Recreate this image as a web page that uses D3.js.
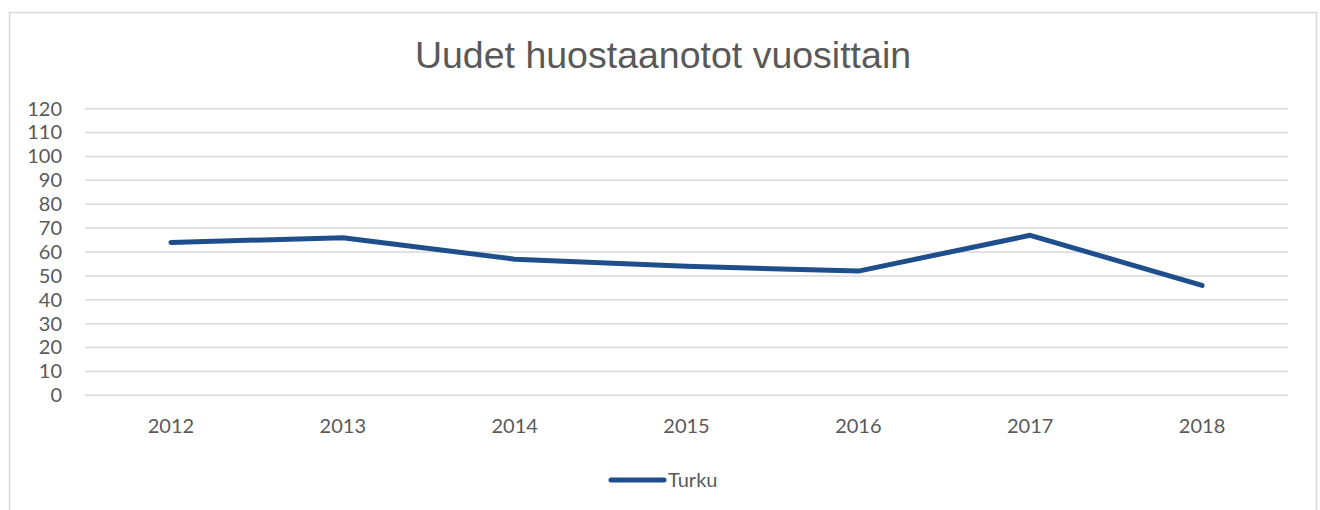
<!DOCTYPE html>
<html><head><meta charset="utf-8">
<script src="https://cdn.jsdelivr.net/npm/d3@7"></script>
<style>body{margin:0;background:#fff}svg{display:block}</style>
</head><body>
<svg id="c" width="1320" height="510"></svg>
<script>
const years = ["2012","2013","2014","2015","2016","2017","2018"];
const turku = [64, 66, 57, 54, 52, 67, 46];
const yTicks = [0,10,20,30,40,50,60,70,80,90,100,110,120];
const title = "Uudet huostaanotot vuosittain";
const seriesName = "Turku";

const svg = d3.select("#c");
const font = "Lato, 'Open Sans', sans-serif";
const color = "#1f4e8c";

svg.append("rect").attr("x",9.5).attr("y",12.5).attr("width",1307).attr("height",520)
  .attr("fill","#fff").attr("stroke","#d9d9d9").attr("stroke-width",1.5);

const x = d3.scaleBand().domain(years).range([85,1288]);
const y = d3.scaleLinear().domain([0,120]).range([395.3,108.7]);

const grid = svg.append("g");
grid.selectAll("line").data(yTicks).join("line")
  .attr("x1",85).attr("x2",1288)
  .attr("y1",d=>y(d)).attr("y2",d=>y(d))
  .attr("stroke","#d9d9d9").attr("stroke-width",1.5);

const yAxis = svg.append("g").attr("transform","translate(62,0)")
  .call(d3.axisLeft(y).tickValues(yTicks).tickSize(0).tickPadding(0));
yAxis.select(".domain").remove();
yAxis.selectAll("text").attr("font-family",font).attr("font-size",20).attr("fill","#595959");

const xAxis = svg.append("g").attr("transform","translate(0,419)")
  .call(d3.axisBottom(x).tickSize(0).tickPadding(0));
xAxis.select(".domain").remove();
xAxis.selectAll("text").attr("font-family",font).attr("font-size",20).attr("fill","#595959");

svg.append("text").attr("x",663).attr("y",68).attr("text-anchor","middle")
  .attr("font-family","'Liberation Sans', Arial, sans-serif").attr("font-size",37.5)
  .attr("fill","#595959").text(title);

const line = d3.line().x((d,i)=>x(years[i])+x.bandwidth()/2).y(d=>y(d));
svg.append("path").datum(turku).attr("d",line).attr("fill","none")
  .attr("stroke",color).attr("stroke-width",5).attr("stroke-linecap","round").attr("stroke-linejoin","round");

svg.append("line").attr("x1",611).attr("x2",664).attr("y1",480).attr("y2",480)
  .attr("stroke",color).attr("stroke-width",5).attr("stroke-linecap","round");
svg.append("text").attr("x",668).attr("y",487).attr("font-family",font).attr("font-size",20)
  .attr("fill","#595959").text(seriesName);
</script>
</body></html>
